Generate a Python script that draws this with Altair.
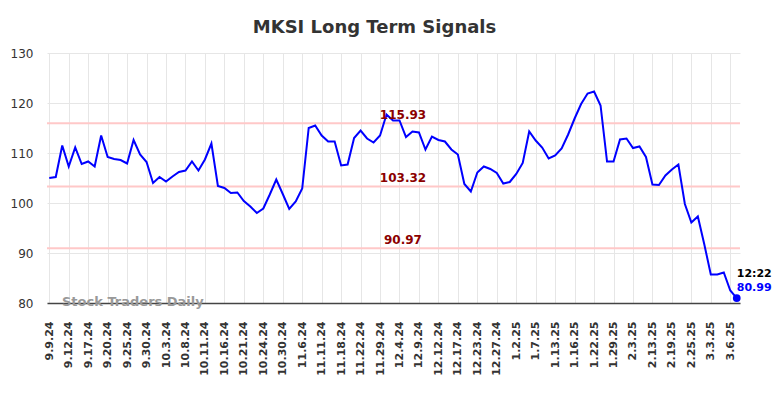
import altair as alt
import pandas as pd

title_text = "MKSI Long Term Signals"
tick_labels = ["9.9.24", "9.12.24", "9.17.24", "9.20.24", "9.25.24", "9.30.24", "10.3.24", "10.8.24",
               "10.11.24", "10.16.24", "10.21.24", "10.24.24", "10.30.24", "11.6.24", "11.11.24",
               "11.18.24", "11.22.24", "11.29.24", "12.4.24", "12.9.24", "12.12.24", "12.17.24",
               "12.23.24", "12.27.24", "1.2.25", "1.7.25", "1.13.25", "1.16.25", "1.22.25", "1.29.25",
               "2.3.25", "2.13.25", "2.19.25", "2.25.25", "3.3.25", "3.6.25"]
label_step = 3
prices = [105.0, 105.2, 111.5, 107.3, 111.1, 107.8, 108.3, 107.3, 113.5, 109.2,
          108.8, 108.6, 107.9, 112.6, 109.7, 108.2, 104.0, 105.2, 104.3, 105.3,
          106.2, 106.5, 108.3, 106.5, 108.7, 111.9, 103.4, 103.0, 102.0, 102.1,
          100.4, 99.3, 98.0, 98.9, 101.7, 104.7, 101.8, 98.8, 100.3, 102.9,
          115.0, 115.5, 113.5, 112.3, 112.3, 107.5, 107.7, 113.0, 114.5, 112.9,
          112.1, 113.5, 117.7, 116.5, 116.5, 113.2, 114.3, 114.1, 110.7, 113.3,
          112.6, 112.3, 110.7, 109.7, 103.8, 102.3, 106.1, 107.3, 106.8, 106.0,
          103.9, 104.2, 105.8, 108.0, 114.3, 112.5, 111.1, 108.9, 109.5, 110.9,
          113.7, 116.9, 119.8, 121.9, 122.3, 119.5, 108.3, 108.3, 112.7, 112.9,
          111.0, 111.3, 109.2, 103.7, 103.6, 105.5, 106.7, 107.7, 99.8, 96.1,
          97.3, 91.7, 85.7, 85.7, 86.1, 82.5, 80.99]
levels = [115.93, 103.32, 90.97]
last_time = "12:22"
watermark = "Stock Traders Daily"

df = pd.DataFrame({"i": list(range(len(prices))), "price": prices})
lv = pd.DataFrame({"level": levels, "label": [f"{v:.2f}" for v in levels]})
last = pd.DataFrame({"i": [len(prices) - 1], "price": [prices[-1]],
                     "time": [last_time], "val": [f"{prices[-1]:.2f}"]})

arr = "[" + ",".join(f"'{t}'" for t in tick_labels) + "]"
label_expr = f"{arr}[round(datum.value/{label_step})]"

xscale = alt.Scale(domain=[-0.35, 106.5], nice=False, zero=False)
yscale = alt.Scale(domain=[80, 130], nice=False, zero=False)

x_axis = alt.Axis(values=list(range(0, label_step * len(tick_labels), label_step)),
                  labelExpr=label_expr, labelAngle=270, labelFontSize=11,
                  labelFontWeight="bold", labelColor="#333333", labelFont="DejaVu Sans",
                  ticks=False, labelPadding=18, grid=True, gridColor="#e6e6e6",
                  domain=True, domainColor="#444444", domainWidth=1.5, title=None,
                  labelOverlap=False, labelSeparation=0, labelBound=False, labelFlush=False)
y_axis = alt.Axis(values=[80, 90, 100, 110, 120, 130], labelFontSize=12,
                  labelColor="#333333", labelFont="DejaVu Sans", ticks=False,
                  labelPadding=14, grid=True, gridColor="#e6e6e6", domain=False, title=None)

X = lambda: alt.X("i:Q", scale=xscale, axis=x_axis)
Y = lambda f: alt.Y(f, scale=yscale, axis=y_axis)

line = alt.Chart(df).mark_line(color="#0000ff", strokeWidth=2).encode(
    x=X(), y=Y("price:Q"),
)

rules = alt.Chart(lv).mark_rule(color="#ffc8c8", strokeWidth=2).encode(
    y=Y("level:Q")
)

level_text = alt.Chart(lv).mark_text(color="#8b0000", fontSize=12, fontWeight="bold",
                                     font="DejaVu Sans", align="center",
                                     baseline="middle", dy=-8).encode(
    x=alt.value(356), y=Y("level:Q"), text="label:N"
)

dot = alt.Chart(last).mark_circle(color="#0000ff", size=60, opacity=1).encode(
    x=X(), y=Y("price:Q")
)
time_text = alt.Chart(last).mark_text(color="#000000", fontSize=11, fontWeight="bold",
                                      font="DejaVu Sans", align="left",
                                      baseline="middle", dy=-24, dx=0).encode(
    x=X(), y=Y("price:Q"), text="time:N"
)
val_text = alt.Chart(last).mark_text(color="#0000ff", fontSize=11, fontWeight="bold",
                                     font="DejaVu Sans", align="left",
                                     baseline="middle", dy=-10, dx=0).encode(
    x=X(), y=Y("price:Q"), text="val:N"
)

wm = alt.Chart(pd.DataFrame({"t": [watermark]})).mark_text(
    color="#999999", fontSize=13, fontWeight="bold", font="DejaVu Sans",
    align="left", baseline="middle").encode(
    x=alt.value(15), y=alt.value(249), text="t:N"
)

title = alt.Chart(pd.DataFrame({"t": [title_text]})).mark_text(
    color="#333333", fontSize=18, fontWeight="bold", font="DejaVu Sans",
    align="center", baseline="alphabetic").encode(
    x=alt.value(327.5), y=alt.value(-20), text="t:N"
)

chart = alt.layer(rules, line, level_text, dot, time_text, val_text, wm, title).properties(
    width=693, height=250,
    autosize=alt.AutoSizeParams(type="none"),
    padding={"left": 39, "top": 45, "right": 36, "bottom": 87},
    background="white",
).configure_view(stroke=None)

chart.save("out.html", embed_options={"renderer": "svg", "actions": False})
